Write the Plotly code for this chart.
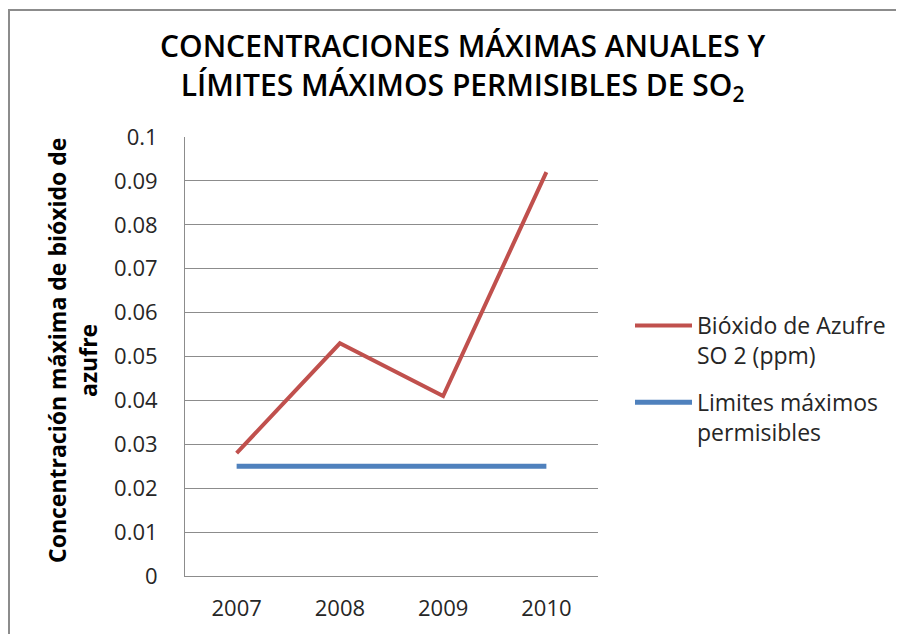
import plotly.graph_objects as go

# Data
years = ["2007", "2008", "2009", "2010"]
so2_ppm = [0.028, 0.053, 0.041, 0.092]
limite_permisible = [0.025, 0.025, 0.025, 0.025]

font_family = "Open Sans, Lato, sans-serif"

fig = go.Figure()

fig.add_trace(go.Scatter(
    x=years, y=so2_ppm, mode="lines",
    name="Bióxido de Azufre<br>SO 2 (ppm)",
    line=dict(color="#C0504D", width=4),
    legendgroup="a",
))
fig.add_trace(go.Scatter(
    x=years, y=limite_permisible, mode="lines",
    name="Limites máximos<br>permisibles",
    line=dict(color="#4F81BD", width=5),
    legendgroup="b",
))

# the page body adds an 8px margin, so positions are given in screen
# pixels and shifted back by that amount
OFF = 8
W, H = 904, 634
L, R, T, B = 185 - OFF, 598 - OFF, 137 - OFF, 576 - OFF
pw, ph = R - L, B - T

def px_x(v):
    return (v - OFF - L) / pw

def px_y(v):
    return (B - (v - OFF)) / ph

fig.update_layout(
    width=W, height=H,
    margin=dict(l=L, r=W - R, t=T, b=H - B, autoexpand=False),
    paper_bgcolor="white",
    plot_bgcolor="white",
    font=dict(family=font_family, size=22, color="#262626"),
    xaxis=dict(
        type="category", range=[-0.5, 3.5],
        showgrid=False, showline=True, linecolor="#8c8c8c", linewidth=1,
        ticks="", ticklabelstandoff=13,
        tickfont=dict(size=22, color="#262626"),
    ),
    yaxis=dict(
        range=[0, 0.1], dtick=0.01,
        showgrid=True, gridcolor="#8c8c8c", gridwidth=1,
        showline=True, linecolor="#8c8c8c", linewidth=1,
        zeroline=False, ticks="", ticklabelstandoff=22,
        tickfont=dict(size=22, color="#262626"),
    ),
    legend=dict(
        x=px_x(630), xanchor="left",
        y=px_y(304), yanchor="top",
        valign="top", itemwidth=57, tracegroupgap=14,
        font=dict(size=23, color="#262626"),
        bgcolor="rgba(0,0,0,0)",
    ),
    annotations=[
        dict(
            text="CONCENTRACIONES MÁXIMAS ANUALES Y<br>LÍMITES MÁXIMOS PERMISIBLES DE SO<sub>2</sub>",
            showarrow=False, xref="paper", yref="paper",
            x=px_x(462), y=px_y(66),
            xanchor="center", yanchor="middle",
            font=dict(size=30, color="black", weight=600),
        ),
        dict(
            text="Concentración máxima de bióxido de",
            textangle=-90, showarrow=False,
            xref="paper", yref="paper",
            x=px_x(57), y=px_y(351),
            xanchor="center", yanchor="middle",
            font=dict(size=23, color="black", weight=700),
        ),
        dict(
            text="azufre",
            textangle=-90, showarrow=False,
            xref="paper", yref="paper",
            x=px_x(88), y=px_y(361),
            xanchor="center", yanchor="middle",
            font=dict(size=23, color="black", weight=700),
        ),
    ],
    shapes=[dict(
        type="rect", xref="paper", yref="paper",
        x0=px_x(9), x1=px_x(940), y0=px_y(680), y1=px_y(10),
        line=dict(color="#8c8c8c", width=2),
        layer="below",
    )],
    showlegend=True,
)

fig.write_html("out.html")
